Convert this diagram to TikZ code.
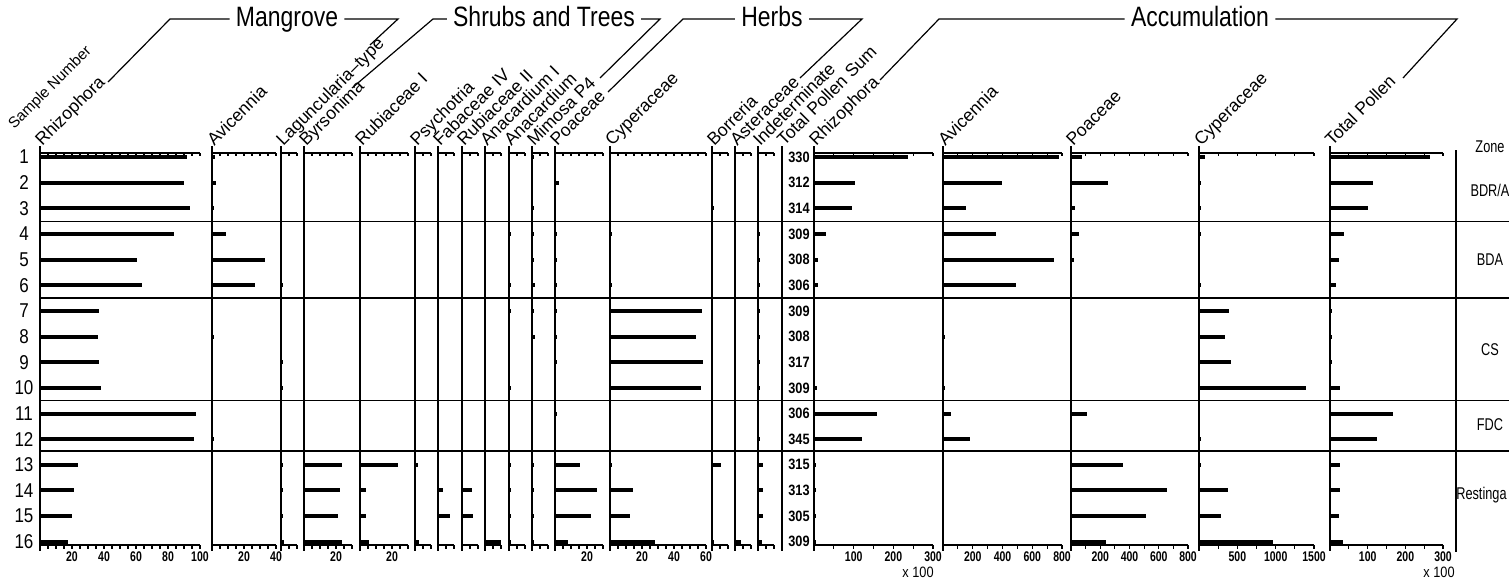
\documentclass[tikz,border=0pt]{standalone}
\usepackage{fontspec}
\setmainfont{Liberation Sans}
\newfontfamily\headfont[FakeStretch=0.82]{Liberation Sans}
\newfontfamily\numfont[FakeStretch=0.75]{Liberation Sans}
\newfontfamily\sumfont[FakeStretch=0.85]{Liberation Sans}

\begin{document}
\begin{tikzpicture}[x=0.5pt, y=-0.5pt,
  declare function={rowy(\r)=157+(\r-1)*25.65;}]
  \tikzset{
    axisline/.style={line width=0.8pt},
    tickline/.style={line width=0.6pt},
    zoneline/.style={line width=0.7pt},
    bar/.style={line width=2pt},
    bracket/.style={line width=0.6pt},
    header/.style={font=\headfont\fontsize{14}{16}\selectfont,
      inner sep=3pt, text height=10pt, text depth=3pt},
    taxon/.style={rotate=45, anchor=base west, inner sep=0pt,
      font=\fontsize{8.8}{10}\selectfont},
    scalelab/.style={inner sep=0pt, font=\numfont\bfseries\fontsize{7}{8}\selectfont},
    samplab/.style={inner sep=0pt, font=\sumfont\fontsize{10}{12}\selectfont},
    sumlab/.style={inner sep=0pt, font=\sumfont\bfseries\fontsize{7.5}{9}\selectfont},
    zonelab/.style={inner sep=0pt, font=\numfont\fontsize{8.5}{10}\selectfont}
  }
  \useasboundingbox (0,0) rectangle (1509,584);

  % Group headers
  \node[header] (hdMangrove) at (287,19) {Mangrove};
  \node[header] (hdShrubs) at (544,19) {Shrubs and Trees};
  \node[header] (hdHerbs) at (772,19) {Herbs};
  \node[header] (hdAccum) at (1200,19) {Accumulation};

  % Bracket corners and ends
  \coordinate (mgCornerL) at (170,19);  \coordinate (mgEndL) at (108,82);
  \coordinate (mgCornerR) at (398,19);  \coordinate (mgEndR) at (370,45);
  \coordinate (shCornerL) at (433,19);  \coordinate (shEndL) at (352,88);
  \coordinate (shCornerR) at (660,19);  \coordinate (shEndR) at (600,78);
  \coordinate (hbCornerL) at (683,19);  \coordinate (hbEndL) at (608,92);
  \coordinate (hbCornerR) at (862,19);  \coordinate (hbEndR) at (800,78);
  \coordinate (acCornerL) at (939,19);  \coordinate (acEndL) at (880,80);
  \coordinate (acCornerR) at (1457,19); \coordinate (acEndR) at (1403,78);

  \draw[bracket] (hdMangrove.west) -- (mgCornerL) -- (mgEndL);
  \draw[bracket] (hdMangrove.east) -- (mgCornerR) -- (mgEndR);
  \draw[bracket] (hdShrubs.west) -- (shCornerL) -- (shEndL);
  \draw[bracket] (hdShrubs.east) -- (shCornerR) -- (shEndR);
  \draw[bracket] (hdHerbs.west) -- (hbCornerL) -- (hbEndL);
  \draw[bracket] (hdHerbs.east) -- (hbCornerR) -- (hbEndR);
  \draw[bracket] (hdAccum.west) -- (acCornerL) -- (acEndL);
  \draw[bracket] (hdAccum.east) -- (acCornerR) -- (acEndR);

  % Taxon labels
  \node[taxon, font=\fontsize{7.6}{9}\selectfont] (sampHead) at (14,130) {Sample Number};
  \foreach \x/\t [count=\k] in {40/Rhizophora, 212/Avicennia, 281/Laguncularia--type,
      304/Byrsonima, 360/Rubiaceae I, 415/Psychotria, 438/Fabaceae IV,
      462/Rubiaceae II, 485/Anacardium I, 509/Anacardium, 532/Mimosa P4,
      555/Poaceae, 610/Cyperaceae, 712/Borreria, 735/Asteraceae,
      758/Indeterminate, 782/Total Pollen Sum, 814/Rhizophora, 943/Avicennia,
      1071/Poaceae, 1199/Cyperaceae, 1330/Total Pollen}
    \node[taxon] (tx\k) at (\x+2,147) {\t};

  % Column axes (x / width / tick count)
  \foreach \x/\w/\n in {40/160/20, 212/64/8, 281/16/2, 304/48/6, 360/48/6,
      415/16/2, 438/16/2, 462/16/2, 485/16/2, 509/16/2, 532/16/2, 555/48/6,
      610/96/12, 712/16/2, 735/16/2, 758/16/2,
      814/119/6, 943/119/8, 1071/117/8, 1199/115/6, 1330/113/6} {
    \draw[axisline] (\x,146) -- (\x,551);
    \draw[axisline] (\x,153) -- ++(\w,0);
    \draw[axisline] (\x,545) -- ++(\w,0);
    \foreach \k in {1,...,\n} {
      \draw[tickline] ({\x+\k*\w/\n},153) -- ++(0,3);
      \draw[tickline] ({\x+\k*\w/\n},545) -- ++(0,4);
    }
  }
  \draw[axisline] (782,146) -- (782,551);

  % Scale numbers
  \foreach \x/\s/\v in {40/1.6/20, 40/1.6/40, 40/1.6/60, 40/1.6/80, 40/1.6/100,
      212/1.6/20, 212/1.6/40, 304/1.6/20, 360/1.6/20, 555/1.6/20,
      610/1.6/20, 610/1.6/40, 610/1.6/60,
      814/0.3967/100, 814/0.3967/200, 814/0.3967/300,
      943/0.14875/200, 943/0.14875/400, 943/0.14875/600, 943/0.14875/800,
      1071/0.14625/200, 1071/0.14625/400, 1071/0.14625/600, 1071/0.14625/800,
      1199/0.07667/500, 1199/0.07667/1000, 1199/0.07667/1500,
      1330/0.37667/100, 1330/0.37667/200, 1330/0.37667/300}
    \node[scalelab] (sc\x-\v) at ({\x+\v*\s},557) {\v};
  \node[scalelab, font=\sumfont\fontsize{7.5}{9}\selectfont] (mulRhiz) at (918,572) {x 100};
  \node[scalelab, font=\sumfont\fontsize{7.5}{9}\selectfont] (mulTotal) at (1439,572) {x 100};

  % Sample numbers and pollen sums
  \foreach \r in {1,...,16}
    \node[samplab] (smp\r) at (24,{rowy(\r)}) {\r};
  \foreach \n [count=\r] in {330,312,314,309,308,306,309,308,317,309,306,345,315,313,305,309}
    \node[sumlab] (psum\r) at (799,{rowy(\r)}) {\n};

  % Bars (x / px per unit / values)
  \foreach \x/\s/\vals in {
      40/1.6/{92,90,94,84,60.5,64,37,36,37,38,97.5,96,24,21,20,17.5},
      212/1.6/{2,2.5,1,9,33,27,0,1,0,0,0,1,0,0,0,0},
      281/1.6/{0,0,0,0,0,1,0,0,1,1,0,0,1,1,1,2},
      304/1.6/{0,0,0,0,0,0,0,0,0,0,0,0,24,22.5,21,24},
      360/1.6/{0,0,0,0,0,0,0,0,0,0,0,0,24,4,4,5.5},
      415/1.6/{0,0,0,0,0,0,0,0,0,0,0,0,2,0,0,2.5},
      438/1.6/{0,0,0,0,0,0,0,0,0,0,0,0,0,3,7.5,0},
      462/1.6/{0,0,0,0,0,0,0,0,0,0,0,0,0,6,7,0},
      485/1.6/{0,0,0,0,0,0,0,0,0,0,0,0,0,0,0,10},
      509/1.6/{0,0,0,1,0,1,1,0,0,1,0,0,1,1,1,1},
      532/1.6/{1,0,1,1,1,2,1,2,0,0,0,0,1,1,1,1},
      555/1.6/{0,2.5,0,1,1,1,1,1,1,0,1,0,15.6,26,22.5,8},
      610/1.6/{0,0,0,1,0,1,57.5,54,58,57,0,0,1,14.5,12.5,28},
      712/1.6/{0,0,1,0,0,0,0,0,0,0,0,0,5.5,0,0,1},
      735/1.6/{0,0,0,0,0,0,0,0,0,0,0,0,0,0,0,4},
      758/1.6/{0,0,0,1,1,1,1,1,1,1,0,1,3,3,3,2.5},
      814/0.3967/{237,103,95,30,11,11,2,2,2,8,160,120,6,6,6,6},
      943/0.14875/{780,395,155,355,745,493,0,10,0,10,55,182,0,0,0,0},
      1071/0.14625/{72,250,24,55,17,8,6,6,0,0,112,0,357,658,512,237},
      1199/0.07667/{75,20,20,20,0,20,390,333,415,1390,0,20,20,377,286,960},
      1330/0.37667/{265,115,102,36,24,17,4,4,4,26,167,125,26,26,24,35}} {
    \foreach \v [count=\r] in \vals
      \draw[bar] (\x,{rowy(\r)}) -- ++({\v*\s},0);
  }

  % Zone boundaries
  \foreach \y in {221.5,298,400.5,451}
    \draw[zoneline] (40,\y) -- (1509,\y);
  \draw[axisline] (1456,150) -- (1456,552);

  % Zone names
  \node[zonelab] (zHead) at (1490,147) {Zone};
  \node[zonelab] (zBdra) at (1490,190) {BDR/A};
  \node[zonelab] (zBda) at (1490,260) {BDA};
  \node[zonelab] (zCs) at (1490,350) {CS};
  \node[zonelab] (zFdc) at (1490,425) {FDC};
  \node[zonelab, anchor=east] (zRest) at (1507,495) {Restinga};
\end{tikzpicture}
\end{document}
